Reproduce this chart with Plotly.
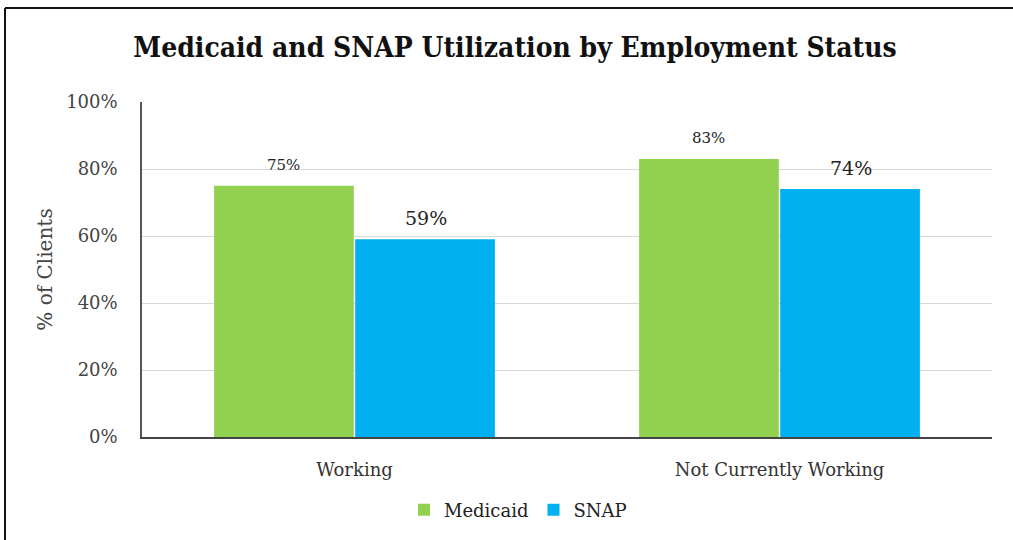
import plotly.graph_objects as go

# Chart data
categories = ["Working", "Not Currently Working"]
medicaid = [75, 83]
snap = [59, 74]
y_ticks = [0, 20, 40, 60, 80, 100]
y_tick_labels = ["0%", "20%", "40%", "60%", "80%", "100%"]

GREEN = "#92D050"
BLUE = "#00B0F0"
SERIF = "'DejaVu Serif', serif"
TITLE_FONT = "'DejaVu Serif Condensed', 'DejaVu Serif', serif"

W, H = 1013, 540
L, R, T, B = 142, 21, 102, 103
pw, ph = W - L - R, H - T - B

fig = go.Figure()
fig.add_trace(go.Bar(name="Medicaid", x=categories, y=medicaid, marker_color=GREEN,
                     marker_line_width=0))
fig.add_trace(go.Bar(name="SNAP", x=categories, y=snap, marker_color=BLUE,
                     marker_line_width=0))

# value labels above bars
for vals, shift, size, ys in [(medicaid, -71, 15, 10), (snap, 71, 19, 8)]:
    for c, v in zip(categories, vals):
        fig.add_annotation(x=c, y=v, text=f"{v}%", showarrow=False, xshift=shift,
                           yanchor="bottom", yshift=ys,
                           font=dict(family=SERIF, size=size, color="#222"))

# outer frame (top and left edges)
px = lambda x: (x - L) / pw
py = lambda y: (H - B - y) / ph
fig.add_shape(type="line", xref="paper", yref="paper", x0=px(5), x1=px(1013),
              y0=py(8), y1=py(8), line=dict(color="#111", width=2))
fig.add_shape(type="line", xref="paper", yref="paper", x0=px(5), x1=px(5),
              y0=py(8), y1=py(540), line=dict(color="#111", width=2))

fig.update_layout(
    width=W, height=H,
    margin=dict(l=L, r=R, t=T, b=B),
    paper_bgcolor="white", plot_bgcolor="white",
    barmode="group", bargap=0.336, bargroupgap=0.01,
    title=dict(text="Medicaid and SNAP Utilization by Employment Status",
               x=515 / W, xanchor="center", y=1 - 47 / H, yanchor="middle",
               font=dict(family=TITLE_FONT, size=28, color="#111", weight=600)),
    font=dict(family=SERIF, color="#333"),
    showlegend=True,
    legend=dict(orientation="h", x=px(518), xanchor="center", y=py(510),
                yanchor="middle", font=dict(family=SERIF, size=18, color="#222"),
                itemwidth=30, traceorder="normal"),
    xaxis=dict(showline=True, linecolor="#444", linewidth=1.5, ticks="",
               ticklabelstandoff=16,
               tickfont=dict(family=SERIF, size=18, color="#333")),
    yaxis=dict(range=[0, 100], tickvals=y_ticks, ticktext=y_tick_labels,
               showline=True, linecolor="#555", linewidth=1.5,
               showgrid=True, gridcolor="#d9d9d9", gridwidth=1,
               tickfont=dict(family=SERIF, size=18, color="#444"), ticks="",
               ticklabelstandoff=19,
               title=dict(text="% of Clients", standoff=8,
                          font=dict(family=SERIF, size=20, color="#444"))),
)

fig.write_html("out.html")
